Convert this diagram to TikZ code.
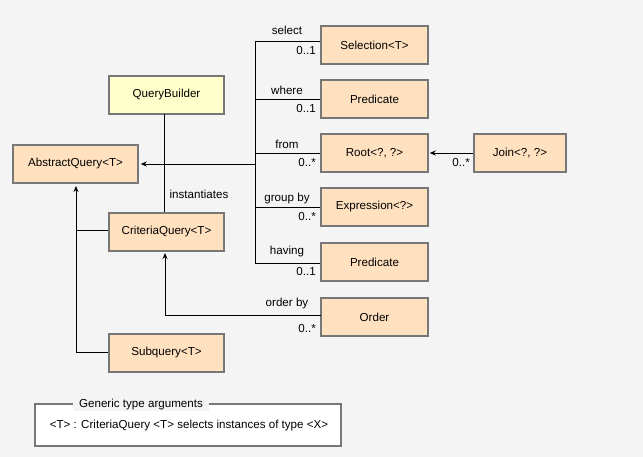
\documentclass[tikz,border=0pt]{standalone}
\usepackage{fontspec}
\setmainfont{Liberation Sans}
\usetikzlibrary{arrows.meta}
\definecolor{bg}{HTML}{F4F4F4}
\definecolor{peach}{HTML}{FFE1BF}
\definecolor{pale}{HTML}{FFFFCC}
\definecolor{edge}{HTML}{777777}
\begin{document}
\begin{tikzpicture}[x=1pt,y=-1pt,
  font=\fontsize{11.6}{14}\selectfont,
  cls/.style={draw=edge,line width=1.5pt,fill=peach,minimum height=38pt,inner sep=0pt},
  wide/.style={minimum width=115pt},
  mid/.style={minimum width=107pt},
  lbl/.style={inner sep=0pt},
  conn/.style={line width=0.9pt},
  arr/.style={conn,-{Stealth[length=6pt,width=5pt]},shorten >=2pt}]
\fill[bg] (0,0) rectangle (643,457);
\useasboundingbox (0,0) rectangle (643,457);
% classes
\node[cls,wide,fill=pale] (QB) at (166.5,95) {QueryBuilder};
\node[cls,minimum width=125pt] (AQ) at (75.5,164) {AbstractQuery<T>};
\node[cls,wide] (CQ) at (166.5,232) {CriteriaQuery<T>};
\node[cls,wide] (SQ) at (166.5,353) {Subquery<T>};
\node[cls,mid] (Sel) at (374.5,45) {Selection<T>};
\node[cls,mid] (P1) at (374.5,99) {Predicate};
\node[cls,mid] (Root) at (374.5,153) {Root<?, ?>};
\node[cls,mid] (Expr) at (374.5,207) {Expression<?>};
\node[cls,mid] (P2) at (374.5,262) {Predicate};
\node[cls,mid] (Ord) at (374.5,317) {Order};
\node[cls,minimum width=92pt] (Join) at (520,153) {Join<?, ?>};
% trunk
\coordinate (bsel) at (255,41);
\coordinate (bwh) at (255,99);
\coordinate (bfr) at (255,153);
\coordinate (bgr) at (255,207);
\coordinate (bhv) at (255,263);
\coordinate (tmid) at (255,164);
\draw[conn] (bsel) -- (bhv);
\draw[conn] (bsel) -- (bsel -| Sel.west);
\draw[conn] (bwh) -- (bwh -| P1.west);
\draw[conn] (bfr) -- (bfr -| Root.west);
\draw[conn] (bgr) -- (bgr -| Expr.west);
\draw[conn] (bhv) -- (bhv -| P2.west);
\draw[arr] (tmid) -- (tmid -| AQ.east);
% labels on trunk branches
\node[lbl] (lsel) at (287,30) {select};
\node[lbl,anchor=east] (msel) at (316,51) {0..1};
\node[lbl] (lwh) at (287,90) {where};
\node[lbl,anchor=east] (mwh) at (316,109) {0..1};
\node[lbl] (lfr) at (287,144) {from};
\node[lbl,anchor=east] (mfr) at (316,163) {0..*};
\node[lbl] (lgr) at (287,199) {group by};
\node[lbl,anchor=east] (mgr) at (316,217) {0..*};
\node[lbl] (lhv) at (287,252) {having};
\node[lbl,anchor=east] (mhv) at (316,272) {0..1};
% QueryBuilder instantiates CriteriaQuery
\coordinate (qbs) at (164,114);
\draw[conn] (qbs) -- (qbs |- CQ.north);
\node[lbl] (linst) at (199,194) {instantiates};
% inheritance to AbstractQuery
\coordinate (gc) at (76,230);
\coordinate (gs) at (76,352);
\coordinate (gt) at (76,183);
\draw[arr,shorten >=3pt] (gs) -- (gt);
\draw[conn] (gc) -- (gc -| CQ.west);
\draw[conn] (gs) -- (gs -| SQ.west);
% order by
\coordinate (oc) at (321,315);
\coordinate (cqb) at (165,251);
\draw[arr] (oc) -| (cqb);
\node[lbl] (lord) at (287,304) {order by};
\node[lbl,anchor=east] (mord) at (316,329) {0..*};
% join
\draw[arr,shorten >=1pt] (Join.west) -- (Root.east);
\node[lbl,anchor=east] (mjoin) at (470,163) {0..*};
% legend
\node[draw=edge,line width=1.5pt,fill=white,minimum width=306pt,minimum height=42pt,inner sep=0pt] (leg) at (188,425) {};
\node[fill=bg,inner xsep=6pt,inner ysep=1pt] (legt) at (141,405) {Generic type arguments};
\node[lbl] (legx) at (189,425) {<T> : CriteriaQuery <T> selects instances of type <X>};
\end{tikzpicture}
\end{document}
